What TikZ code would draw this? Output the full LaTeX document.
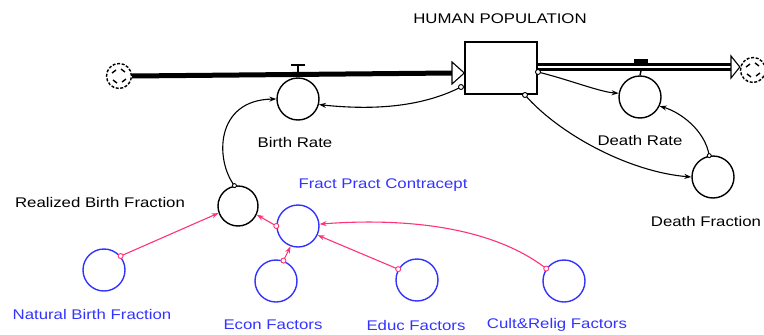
\documentclass[tikz,border=0pt]{standalone}
\usepackage{fontspec}
\newfontfamily\pixfont[FakeStretch=1.2]{Liberation Sans}
\usetikzlibrary{arrows.meta}
\definecolor{auxblue}{HTML}{3333FF}
\definecolor{linkpink}{HTML}{FF3377}

\begin{document}
\begin{tikzpicture}[x=1pt,y=-1pt,
  every node/.style={font=\pixfont\fontsize{14}{16}\selectfont},
  conv/.style={circle,draw,line width=1.4pt,minimum size=42pt,inner sep=0pt},
  auxconv/.style={conv,draw=auxblue},
  lbl/.style={inner sep=0pt,anchor=center},
  auxlbl/.style={lbl,text=auxblue},
  cloud/.style={circle,draw,dashed,dash pattern=on 3pt off 1.6pt,line width=1.4pt,minimum size=25pt,inner sep=0pt},
  conn/.style={line width=1.1pt,-{Stealth[length=7pt,width=5pt]}},
  pconn/.style={conn,draw=linkpink},
  src/.style={circle,draw,fill=white,line width=0.9pt,minimum size=5pt,inner sep=0pt},
  psrc/.style={src,draw=linkpink},
  pipehead/.style={draw,fill=white,line width=1.1pt,line join=miter}]
\useasboundingbox (0,0) rectangle (764,335);

% stock
\node[draw,line width=1.4pt,minimum width=72pt,minimum height=52pt,inner sep=0pt] (pop) at (501,68) {};
\node[lbl] (poplbl) at (500,19) {HUMAN POPULATION};

% clouds (source and sink) with an inner swirl
\node[cloud] (cl) at (119,76) {};
\draw[line width=1.4pt] (112,73) -- (116,70) (126,79) -- (122,82) (113,80) -- (117,83) (125,72) -- (121,69);
\node[cloud] (cr) at (753,70) {};
\draw[line width=1.4pt] (746,67) -- (750,64) (760,73) -- (756,76) (747,74) -- (751,77) (759,66) -- (755,63);

% converters
\node[conv] (br) at (298,99) {};
\node[conv] (dr) at (640,97) {};
\node[conv] (df) at (713,177) {};
\node[conv,minimum size=40pt] (rbf) at (238,206) {};
\node[auxconv] (fpc) at (298,226) {};
\node[auxconv] (nbf) at (104,270) {};
\node[auxconv] (econ) at (276,281) {};
\node[auxconv] (educ) at (417,280) {};
\node[auxconv] (cult) at (564,281) {};

% labels
\node[lbl] at (295,142) {Birth Rate};
\node[lbl] at (640,140) {Death Rate};
\node[lbl] at (706,221) {Death Fraction};
\node[lbl] at (100,202) {Realized Birth Fraction};
\node[auxlbl] at (383,185) {Fract Pract Contracept};
\node[auxlbl] at (92,314) {Natural Birth Fraction};
\node[auxlbl] at (273,325) {Econ Factors};
\node[auxlbl] at (416,325) {Educ Factors};
\node[auxlbl] at (557,325) {Cult\&Relig Factors};

% inflow pipe
\coordinate (inend) at (452,73);
\draw[line width=5pt] (cl.east) -- (inend);
\draw[pipehead] (452,62) -- (pop.west |- 0,73) -- (452,84) -- cycle;
\draw[line width=1.6pt] (291,65) -- (305,65);
\draw[line width=1.4pt] (298,65) -- (br.north);

% outflow pipe
\coordinate (outend) at (731,67);
\draw[line width=8pt] (pop.east |- 0,67) -- (outend);
\draw[white,line width=2.5pt] (pop.east |- 0,67) -- (outend);
\draw[pipehead] (731,56) -- (cr.west |- 0,67) -- (731,78) -- cycle;
\fill (634,59) rectangle (648,63);
\draw[line width=1.4pt] (641,71) -- (dr.north);

% black connectors
\coordinate (popSW) at (461,87);
\coordinate (popE) at (538,72);
\coordinate (popB) at (525,95);
\draw[conn] (popSW) .. controls (420,108) and (370,110) .. (br.-15);
\draw[conn] (rbf.100) .. controls (215,160) and (215,100) .. (br.180);
\draw[conn] (popE) .. controls (570,80) and (600,92) .. (dr.170);
\draw[conn] (popB) .. controls (560,135) and (630,172) .. (df.west);
\draw[conn] (df.100) .. controls (705,130) and (680,112) .. (dr.-25);
\node[src] at (popSW) {};
\node[src] at (popE) {};
\node[src] at (popB) {};
\node[src,minimum size=4pt] at (rbf.100) {};
\node[src,minimum size=4pt] at (df.100) {};

% pink connectors
\draw[pconn] (nbf.40) -- (rbf.200);
\draw[pconn] (fpc.west) -- (rbf.-25);
\draw[pconn] (econ.70) -- (fpc.-110);
\draw[pconn] (educ.150) -- (fpc.-25);
\draw[pconn] (cult.145) .. controls (490,225) and (400,218) .. (fpc.5);
\node[psrc] at (nbf.40) {};
\node[psrc] at (fpc.west) {};
\node[psrc] at (econ.70) {};
\node[psrc] at (educ.150) {};
\node[psrc] at (cult.145) {};
\end{tikzpicture}
\end{document}
